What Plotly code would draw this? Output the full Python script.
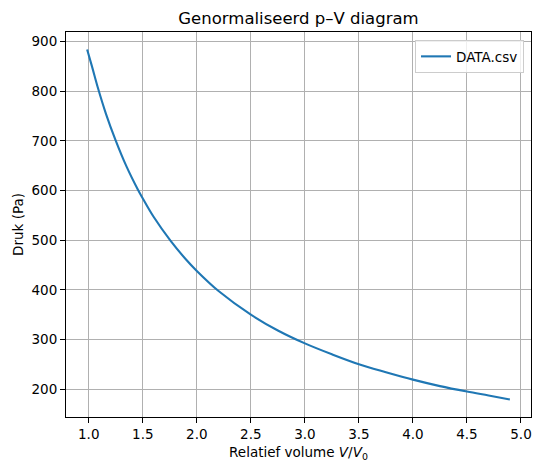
import plotly.graph_objects as go

# Relative volume V/V0
volume = [0.985, 1.031, 1.083, 1.16, 1.247, 1.35, 1.454, 1.5, 1.6, 1.756, 1.9,
          2.0, 2.204, 2.5, 2.75, 3.0, 3.25, 3.5, 3.75, 4.0, 4.25, 4.5, 4.7, 4.897]
# Pressure in Pa
pressure = [884, 849, 808, 754, 702, 648, 602, 584, 547, 499, 461,
            438, 397, 350, 318, 292, 270, 250, 234, 219, 206, 195, 187, 179]

series_name = "DATA.csv"
title_text = "Genormaliseerd p–V diagram"
x_title = "Relatief volume <i>V</i>/<i>V</i><sub>0</sub>"
y_title = "Druk (Pa)"
x_ticks = [1.0, 1.5, 2.0, 2.5, 3.0, 3.5, 4.0, 4.5, 5.0]
y_ticks = [200, 300, 400, 500, 600, 700, 800, 900]

def padded(vals, frac=0.05):
    lo, hi = min(vals), max(vals)
    d = (hi - lo) * frac
    return [lo - d, hi + d]

FONT = "DejaVu Sans, Liberation Sans, sans-serif"

fig = go.Figure()
fig.add_trace(go.Scatter(
    x=volume, y=pressure, mode="lines", name=series_name,
    line=dict(color="#1f77b4", width=2.1, shape="spline", smoothing=1.0),
    showlegend=True,
))

axis_common = dict(
    showline=True, linecolor="black", linewidth=1.1, mirror=True,
    showgrid=True, gridcolor="#b0b0b0", gridwidth=1.1,
    zeroline=False, automargin=False,
    ticks="outside", ticklen=5, tickwidth=1.1, tickcolor="black",
    tickfont=dict(family=FONT, size=13.5, color="black"),
)

fig.update_layout(
    width=541, height=474,
    paper_bgcolor="white", plot_bgcolor="white",
    margin=dict(l=66, r=10, t=32, b=57),
    font=dict(family=FONT, color="black"),
    title=dict(text=title_text, x=0.5, xref="paper", xanchor="center",
               y=1 - 18 / 474, yref="container", yanchor="middle",
               font=dict(family=FONT, size=16.5, color="black")),
    xaxis=dict(range=padded(volume), tickvals=x_ticks,
               ticktext=[f"{v:.1f}" for v in x_ticks],
               title=dict(text=x_title, standoff=6,
                          font=dict(family=FONT, size=13.5, color="black")),
               **axis_common),
    yaxis=dict(range=padded(pressure), tickvals=y_ticks,
               ticktext=[str(v) for v in y_ticks],
               title=dict(text=y_title, standoff=4,
                          font=dict(family=FONT, size=13.5, color="black")),
               **axis_common),
    legend=dict(x=0.985, y=0.979, xanchor="right", yanchor="top",
                bgcolor="rgba(255,255,255,0.8)", bordercolor="#cccccc",
                borderwidth=1, font=dict(family=FONT, size=13.5, color="black"),
                itemwidth=30, tracegroupgap=0),
)

fig.write_html("out.html",
               config={"displayModeBar": False},
               post_script="document.body.style.margin='0';document.body.style.padding='0';")
